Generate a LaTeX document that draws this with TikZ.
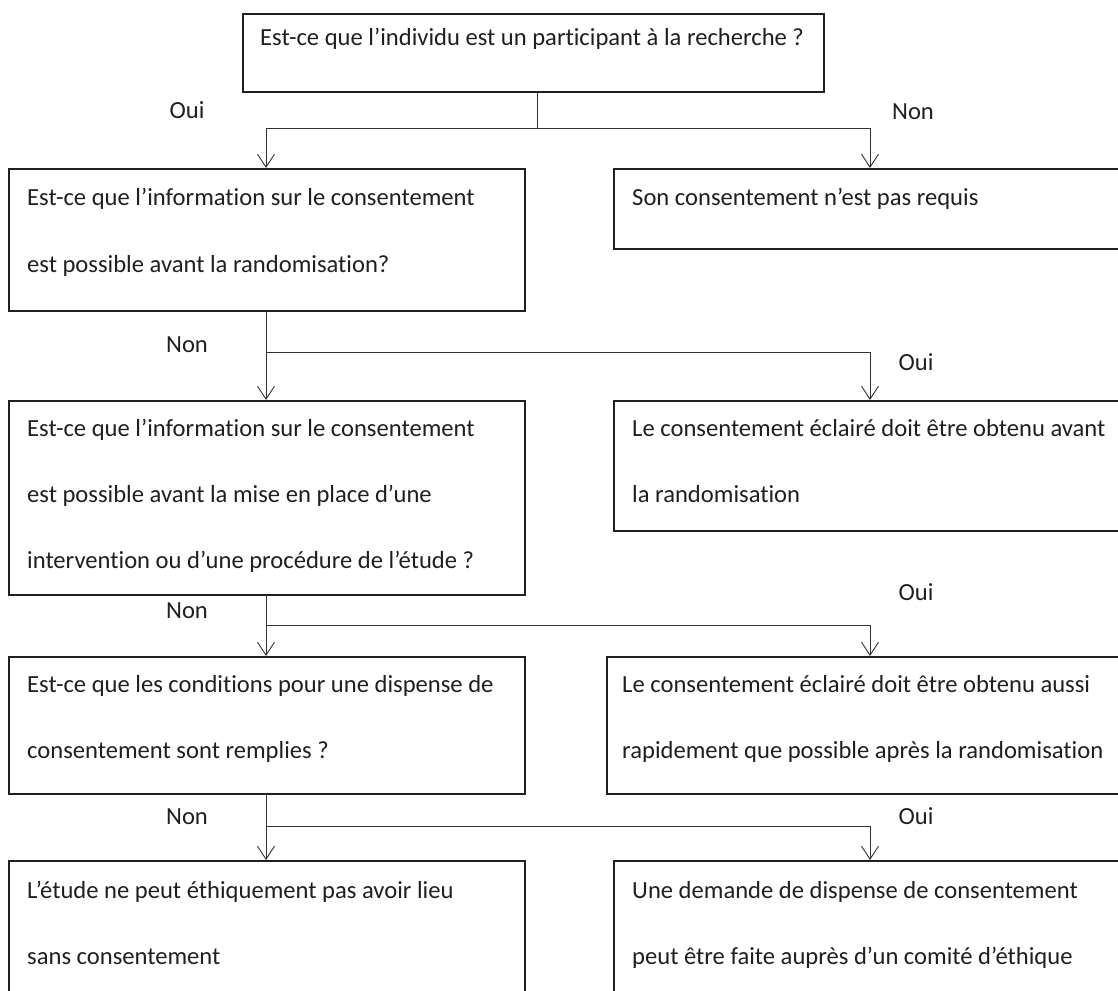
\documentclass[tikz,border=0pt]{standalone}
\usepackage{fontspec}
\setmainfont{Carlito}[Ligatures={NoCommon,NoRare}]
\usetikzlibrary{arrows.meta}
\begin{document}
\begin{tikzpicture}[x=1pt,y=-1pt,
  box/.style={draw=black!88, line width=1.9pt, rectangle, inner sep=0pt, anchor=north west},
  txt/.style={font=\fontsize{24.6}{28}\selectfont, text=black!88, inner sep=0pt, anchor=base west},
  lbl/.style={font=\fontsize{24.6}{28}\selectfont, text=black!88, inner sep=0pt, anchor=center},
  conn/.style={draw=black!80, line width=0.9pt},
  arr/.style={conn, -{Straight Barb[length=13pt,width=17pt,line width=0.9pt]}}]
\useasboundingbox (0,0) rectangle (1118,990);
\clip (0,0) rectangle (1118,990);
% x positions of connectors
\coordinate (lx) at (266,0);
\coordinate (rx) at (870,0);
\coordinate (tx) at (537,0);
% boxes
\node[box, minimum width=581pt, minimum height=78pt] (top) at (242,13) {};
\node[box, minimum width=516pt, minimum height=142pt] (l1) at (8,168) {};
\node[box, minimum width=530pt, minimum height=80pt] (r1) at (613,168) {};
\node[box, minimum width=516pt, minimum height=194pt] (l2) at (8,400) {};
\node[box, minimum width=530pt, minimum height=130pt] (r2) at (613,400) {};
\node[box, minimum width=516pt, minimum height=137pt] (l3) at (8,656) {};
\node[box, minimum width=537pt, minimum height=137pt] (r3) at (606,656) {};
\node[box, minimum width=516pt, minimum height=150pt] (l4) at (8,860) {};
\node[box, minimum width=530pt, minimum height=150pt] (r4) at (613,860) {};
% texts
\node[txt] (t0) at (260,46) {Est-ce que l’individu est un participant à la recherche ?};
\node[txt] (t1a) at (27,205) {Est-ce que l’information sur le consentement};
\node[txt] (t1b) at (27,272) {est possible avant la randomisation?};
\node[txt] (u1a) at (632,205) {Son consentement n’est pas requis};
\node[txt] (t2a) at (27,436) {Est-ce que l’information sur le consentement};
\node[txt] (t2b) at (27,502) {est possible avant la mise en place d’une};
\node[txt] (t2c) at (27,568) {intervention ou d’une procédure de l’étude ?};
\node[txt] (u2a) at (632,436) {Le consentement éclairé doit être obtenu avant};
\node[txt] (u2b) at (632,502) {la randomisation};
\node[txt] (t3a) at (27,692) {Est-ce que les conditions pour une dispense de};
\node[txt] (t3b) at (27,758) {consentement sont remplies ?};
\node[txt] (u3a) at (622,692) {Le consentement éclairé doit être obtenu aussi};
\node[txt] (u3b) at (622,758) {rapidement que possible après la randomisation};
\node[txt] (t4a) at (27,898) {L’étude ne peut éthiquement pas avoir lieu};
\node[txt] (t4b) at (27,964) {sans consentement};
\node[txt] (u4a) at (632,898) {Une demande de dispense de consentement};
\node[txt] (u4b) at (632,964) {peut être faite auprès d’un comité d’éthique};
% labels
\node[lbl] (o1) at (187,110) {Oui};
\node[lbl] (n1) at (913,112) {Non};
\node[lbl] (n2) at (187,345) {Non};
\node[lbl] (o2) at (916,362) {Oui};
\node[lbl] (n3) at (187,611) {Non};
\node[lbl] (o3) at (916,592) {Oui};
\node[lbl] (n4) at (187,817) {Non};
\node[lbl] (o4) at (916,816) {Oui};
% junctions
\coordinate (j0) at (537,128);
\coordinate (j1) at (266,352);
\coordinate (j2) at (266,625);
\coordinate (j3) at (266,826);
% connectors
\draw[conn] (top.south -| tx) -- (j0);
\draw[arr] (j0) -| (l1.north -| lx);
\draw[arr] (j0) -| (r1.north -| rx);
\draw[arr] (l1.south -| lx) -- (l2.north -| lx);
\draw[arr] (j1) -| (r2.north -| rx);
\draw[arr] (l2.south -| lx) -- (l3.north -| lx);
\draw[arr] (j2) -| (r3.north -| rx);
\draw[arr] (l3.south -| lx) -- (l4.north -| lx);
\draw[arr] (j3) -| (r4.north -| rx);
\end{tikzpicture}
\end{document}
